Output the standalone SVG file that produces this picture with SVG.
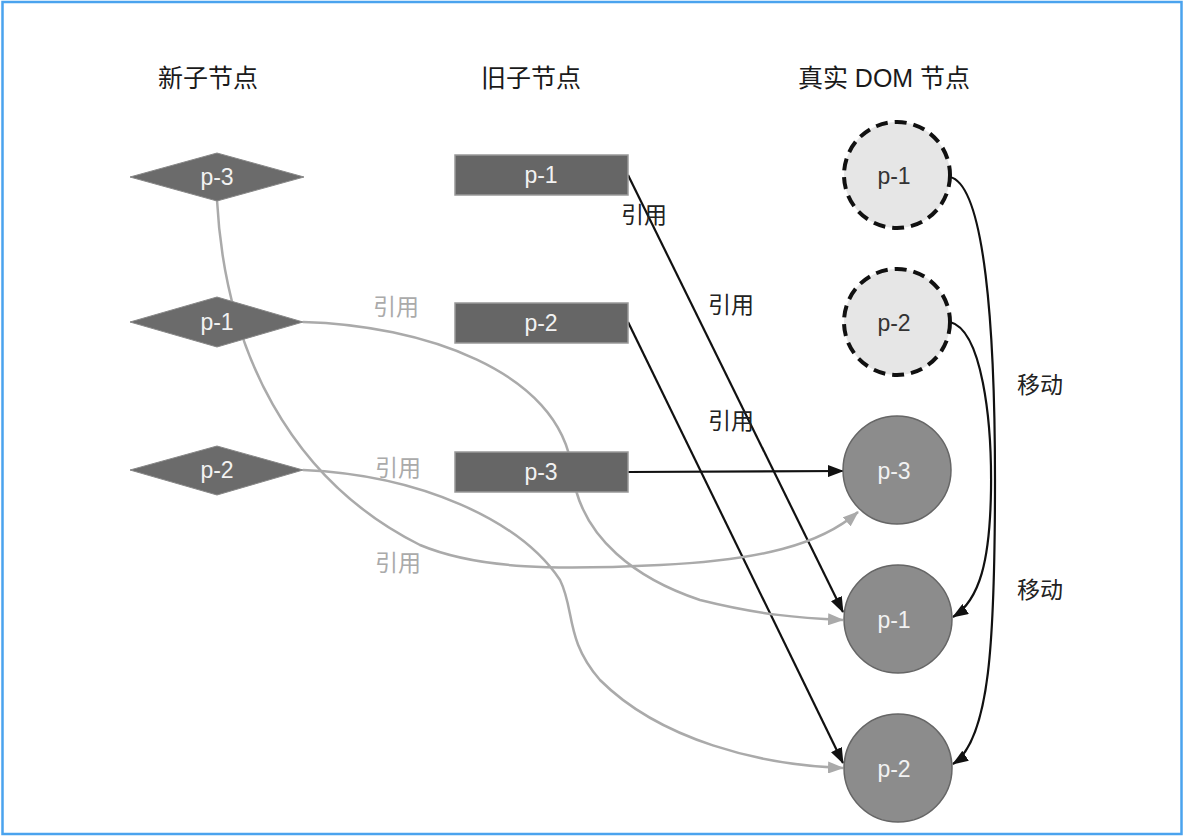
<svg xmlns="http://www.w3.org/2000/svg" width="1184" height="839" viewBox="0 0 1184 839">
<style>
text{font-family:"Liberation Sans","Noto Sans CJK SC",sans-serif;text-anchor:middle}
.hdr{font-size:25px;fill:#1a1a1a}
.lbl{font-size:23px;fill:#f2f2f2}
.dlbl{font-size:23px;fill:#333}
.diamond{fill:#6b6b6b;stroke:#888;stroke-width:1}
.rect{fill:#666;stroke:#999;stroke-width:1.5}
.solid{fill:#8c8c8c;stroke:#666;stroke-width:1.5}
.dashed{fill:#e6e6e6;stroke:#111;stroke-width:4;stroke-dasharray:12 7}
.blk{fill:none;stroke:#111;stroke-width:2.2}
.gry{fill:none;stroke:#aaa;stroke-width:2.5}
.bt{font-size:23px;fill:#222}
.gt{font-size:23px;fill:#aaa}
</style>
<defs>
<marker id="ab" markerWidth="16" markerHeight="12" refX="15" refY="6" orient="auto" markerUnits="userSpaceOnUse"><path d="M0,0 L16,6 L0,12 Z" fill="#111"/></marker>
<marker id="ag" markerWidth="16" markerHeight="12" refX="15" refY="6" orient="auto" markerUnits="userSpaceOnUse"><path d="M0,0 L16,6 L0,12 Z" fill="#aaa"/></marker>
</defs>
<rect x="2.5" y="2" width="1179" height="832" fill="#fff" stroke="#4aa3ee" stroke-width="2.5"/>
<g id="headers">
<text class="hdr" x="208" y="87">新子节点</text>
<text class="hdr" x="531" y="87">旧子节点</text>
<text class="hdr" x="884" y="87">真实 DOM 节点</text>
</g>
<g id="connectors">
<line class="blk" x1="628" y1="175" x2="843" y2="612" marker-end="url(#ab)"/>
<line class="blk" x1="628" y1="322" x2="843" y2="763" marker-end="url(#ab)"/>
<line class="blk" x1="628" y1="472" x2="843" y2="471" marker-end="url(#ab)"/>
<path class="blk" d="M950,177 C985,185 995,330 995,480 C995,640 990,740 953,764" marker-end="url(#ab)"/>
<path class="blk" d="M950,322 C982,330 992,420 991,490 C990,560 980,600 953,617" marker-end="url(#ab)"/>
<path class="gry" d="M217,200 C225,350 290,480 420,545 C480,570 560,570 660,565 C760,560 820,545 858,512" marker-end="url(#ag)"/>
<path class="gry" d="M303,322 C420,325 560,370 572,470 C580,540 640,580 700,600 C760,615 800,618 843,620" marker-end="url(#ag)"/>
<path class="gry" d="M303,470 C420,475 520,520 560,580 C575,610 565,640 600,680 C660,740 760,765 843,768" marker-end="url(#ag)"/>
<text class="bt" x="644" y="223">引用</text>
<text class="bt" x="731" y="313">引用</text>
<text class="bt" x="731" y="429">引用</text>
<text class="bt" x="1040" y="393">移动</text>
<text class="bt" x="1040" y="598">移动</text>
<text class="gt" x="396" y="315">引用</text>
<text class="gt" x="398" y="476">引用</text>
<text class="gt" x="398" y="571">引用</text>
</g>
<g id="new-p3"><polygon class="diamond" points="130,177 217,153 304,177 217,201"/><text class="lbl" x="217" y="185">p-3</text></g>
<g id="new-p1"><polygon class="diamond" points="130,322 217,297 303,322 217,347"/><text class="lbl" x="217" y="330">p-1</text></g>
<g id="new-p2"><polygon class="diamond" points="130,470 217,446 303,470 217,495"/><text class="lbl" x="217" y="478">p-2</text></g>
<g id="old-p1"><rect class="rect" x="455" y="155" width="173" height="40"/><text class="lbl" x="541" y="183">p-1</text></g>
<g id="old-p2"><rect class="rect" x="455" y="303" width="173" height="40"/><text class="lbl" x="541" y="331">p-2</text></g>
<g id="old-p3"><rect class="rect" x="455" y="452" width="173" height="40"/><text class="lbl" x="541" y="480">p-3</text></g>
<g id="dom-p1-old"><circle class="dashed" cx="897" cy="175" r="53"/><text class="dlbl" x="894" y="184">p-1</text></g>
<g id="dom-p2-old"><circle class="dashed" cx="897" cy="322" r="53"/><text class="dlbl" x="894" y="331">p-2</text></g>
<g id="dom-p3"><circle class="solid" cx="897" cy="470" r="54"/><text class="lbl" x="894" y="479">p-3</text></g>
<g id="dom-p1"><circle class="solid" cx="898" cy="619" r="54"/><text class="lbl" x="894" y="628">p-1</text></g>
<g id="dom-p2"><circle class="solid" cx="898" cy="768" r="54"/><text class="lbl" x="894" y="777">p-2</text></g>
</svg>
